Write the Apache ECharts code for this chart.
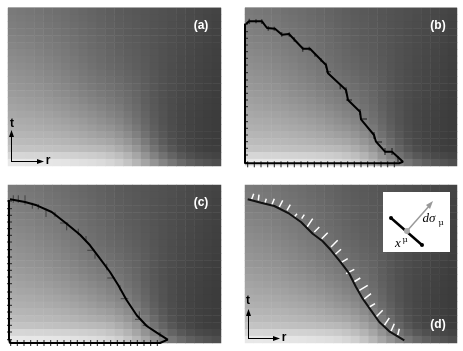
<!DOCTYPE html>
<html>
<head>
<meta charset="utf-8">
<style>
html, body { margin: 0; padding: 0; background: #fff; }
#js-chart { width: 463px; height: 351px; }
</style>
<script src="https://cdn.jsdelivr.net/npm/echarts@6/dist/echarts.min.js"></script>
</head>
<body>
<div id="js-chart"></div>
<script>
// grey level of every cell, top row first
const field = [
    [122,120,118,116,113,111,109,106,103,100,97,94,91,89,87,85,83,81,79,77,74,72,70,68],
    [124,122,120,118,115,113,110,107,104,101,98,95,92,90,88,85,83,81,79,76,74,72,69,67],
    [126,124,122,120,117,115,112,109,106,103,99,96,93,91,88,86,83,81,78,76,73,71,69,66],
    [128,126,124,122,119,117,114,111,107,104,101,97,94,91,89,86,83,81,78,75,73,71,68,66],
    [131,129,127,124,122,119,116,113,109,106,102,99,95,92,90,87,84,81,78,75,72,70,68,65],
    [134,132,130,127,124,122,119,115,111,107,104,100,96,93,91,87,84,81,78,75,72,70,67,65],
    [137,135,133,130,127,124,121,117,113,109,106,102,98,95,92,88,85,81,78,75,72,69,67,64],
    [140,138,136,133,130,127,123,120,115,111,107,103,100,96,93,89,85,81,78,74,71,69,66,64],
    [143,141,139,136,133,130,126,122,118,113,109,105,102,98,94,90,85,81,77,74,71,68,66,63],
    [146,144,142,139,136,133,129,125,120,116,112,108,104,100,96,91,86,81,77,73,70,68,65,63],
    [149,147,145,142,139,136,132,128,123,119,115,111,107,102,98,92,86,81,77,73,70,67,65,62],
    [152,150,148,146,143,139,136,132,127,122,118,114,110,105,100,93,87,81,77,73,69,67,64,62],
    [156,154,152,150,147,143,140,136,131,127,122,118,113,108,102,94,87,81,76,72,69,66,64,61],
    [160,158,156,154,151,148,145,141,136,131,127,122,117,111,104,95,88,81,76,72,68,66,63,61],
    [164,162,160,158,156,153,150,146,142,137,132,127,122,114,107,97,89,82,76,71,68,65,63,61],
    [168,166,165,163,161,158,155,151,147,143,138,132,127,119,110,100,90,83,76,71,67,65,62,60],
    [172,171,170,168,166,164,161,158,154,149,144,139,133,124,114,103,92,83,76,71,67,64,62,60],
    [176,175,174,173,171,169,167,164,160,156,151,147,140,131,120,107,95,85,77,71,67,64,62,60],
    [182,181,180,179,178,176,174,171,168,164,160,156,149,140,128,113,99,88,78,72,67,64,62,60],
    [188,187,186,185,184,183,181,179,176,173,170,166,159,150,138,122,106,92,81,73,68,65,62,60],
    [196,195,195,194,193,192,191,190,188,186,184,180,172,163,150,133,115,100,87,77,71,66,63,62],
    [214,214,213,213,212,211,210,209,207,205,202,197,190,180,166,148,130,114,100,88,80,74,71,68],
    [232,232,231,231,230,229,228,226,224,222,219,214,207,196,182,165,148,132,118,105,95,88,83,78]
];

const curveB = [[1,142],[4,144.7],[17,144.7],[22,138],[30,137.3],[37,131.3],[44,132],[58,117.3],[65,117.3],[81,101],[83,92.7],[101,76],[103,66],[115,54.3],[116,46.7],[129,31],[131,24.3],[140,14.3],[147,14.3],[158,4.3],[154,2.7],[0,2.7],[0,142]];
const curveC = [[2,143.7],[17,141],[28.7,137.7],[43.7,131],[58.7,119.3],[72,108.3],[82,97.7],[92,84.3],[102,71],[110.3,57.7],[118.7,42.7],[128.7,27.7],[138.7,17],[148.7,10.3],[159.7,3.3],[152,0],[2,0],[1,4],[1,143]];
const curveD = [[2.7,143.7],[16,140.3],[29.3,137],[44.3,129.3],[56,121],[67.7,109.3],[77.7,101.7],[86,92.7],[96,80.3],[104.3,69.3],[111,56],[117.7,44.3],[126,32.7],[134.3,21],[144.3,11.7],[159.3,2.7]];

// small strokes along the curves, each one [r0, t0, r1, t1]
const ticksB = [[4.3,147.3,4.3,142],[11,146.7,11,142.7],[16.7,146.7,16.7,142],[23.3,140,23.3,135.3],[29.3,139.3,29.3,135.3],[36.7,134,36.7,129.3],[44.3,133.7,44.3,129.3],[49.3,128.7,49.3,124.3],[57.7,119.3,57.7,114.3],[64.3,119.3,64.3,115.3],[70,112.7,70,109.3],[76,107.7,76,104.3],[81,103.3,81,97.7],[81,94.3,86,94.3],[95.3,81,95.3,76.7],[101,78.7,101,72.7],[101,66,107,66],[115,57,115,51],[116,47,122,47],[129,34,129,27],[131,24,137,24],[140,18,140,11],[147,18,147,11],[153,10,153,4]];
const ticksC = [[5.3,147.7,5.3,140.3],[10.3,147.7,10.3,140.3],[17,147.7,17,138.3],[24.3,140.3,24.3,134.3],[30.3,139,30.3,133.7],[38,134.3,38,126],[47,131,47,126],[52,120,60.3,120],[58.7,119.3,58.7,112.7],[70.3,114.3,70.3,107.7],[78,107,78,102.7],[79.3,92.7,87,92.7],[87,89.3,87,84.3],[98.7,79.3,98.7,72.7],[99.3,65,107,65],[112,57.7,112,52.7],[112.7,44.3,120.3,44.3],[131.3,31.7,131.3,26],[127,23.7,133.7,23.7],[134.7,17.7,140.3,17.7],[152,11,152,6]];
const ticksD = [[6.7,143.7,8.7,149.3],[13.3,142.7,14,148.3],[20,140.3,21.3,144.3],[26.7,137.7,29.3,144.3],[34.3,136,37.7,142.7],[42,132.7,45.3,138.3],[49.3,126,52,129.3],[56.7,124.3,59.3,128.3],[62,116,67.7,124.3],[69.3,111,74.3,116],[76.7,104.3,82.7,110.3],[86,96,92.7,102.7],[89.3,87.7,96,93.7],[96,80.3,102.7,84.3],[101,69.3,109.3,73.7],[108.7,61,115.3,65],[114.3,52.7,122.7,57.7],[118.7,43.7,126,49.3],[124.3,36,130,39.3],[131,26,137.7,32.7],[139.3,17.7,144.3,25],[146,11.7,149.3,19.3],[152.7,7.7,154.3,14.3]];

const edgeTicksT = [3.3,11,17.7,24.3,31,37.7,44.3,51,59.3,66,72.7,79.3,86,93.3,101,107.7,114.3,121,127.7,134.3,142];
const edgeTicksR = [2.7,9.3,16,22.7,29.3,36,42.7,49.3,56,62.7,69.3,76,82.7,89.3,96,102.7,109.3,116,122.7,129.3,136,142.7,149.3];

const panels = [
    {left: 8, top: 8, width: 213, height: 158},
    {left: 245, top: 8, width: 212, height: 158},
    {left: 8, top: 185, width: 213, height: 158},
    {left: 245, top: 185, width: 212, height: 158}
];

// turns [r0, t0, r1, t1] strokes into one broken line
function strokes(list) {
    const out = [];
    list.forEach(function (s) {
        out.push([s[0], s[1]], [s[2], s[3]], ['-', '-']);
    });
    return out;
}

const cells = [];
field.forEach(function (row, r) {
    row.forEach(function (v, c) {
        cells.push([c, field.length - 1 - r, v]);
    });
});

const chart = echarts.init(document.getElementById('js-chart'), null, {renderer: 'canvas'});

const grid = [];
const xAxis = [];
const yAxis = [];
const series = [];

panels.forEach(function (p, i) {
    grid.push(p);
    // category axes for the cells, value axes for the curves
    xAxis.push({type: 'category', gridIndex: i, show: false, data: field[0].map(function (v, c) { return c; })});
    yAxis.push({type: 'category', gridIndex: i, show: false, data: field.map(function (v, r) { return r; })});
    xAxis.push({type: 'value', gridIndex: i, show: false, min: 0, max: p.width});
    yAxis.push({type: 'value', gridIndex: i, show: false, min: 0, max: p.height});
    series.push({
        type: 'heatmap',
        xAxisIndex: i * 2,
        yAxisIndex: i * 2,
        data: cells,
        silent: true,
        progressive: 0
    });
});

function line(i, data, color, width) {
    series.push({
        type: 'line',
        xAxisIndex: i * 2 + 1,
        yAxisIndex: i * 2 + 1,
        data: data,
        showSymbol: false,
        symbol: 'none',
        silent: true,
        clip: false,
        z: 5,
        lineStyle: {color: color, width: width}
    });
}

function edgeTicks(edgeR, edgeT) {
    const list = [];
    edgeTicksT.forEach(function (t) {
        list.push([edgeR - 3, t, edgeR + 3, t]);
    });
    edgeTicksR.forEach(function (r) {
        list.push([r, edgeT + 2, r, edgeT - 4]);
    });
    return list;
}

line(1, strokes(ticksB), 'rgba(30,30,30,0.7)', 1.5);
line(1, strokes(edgeTicks(0, 2.7)), '#222', 1);
line(1, curveB, '#000', 2);
line(2, strokes(ticksC), 'rgba(40,40,40,0.7)', 1);
line(2, strokes(edgeTicks(1, 1)), '#222', 1);
line(2, curveC, '#000', 2);
line(3, strokes(ticksD), '#fff', 1.5);
line(3, curveD, '#111', 2);

function label(text, x, y, extra) {
    return {
        type: 'text',
        x: x,
        y: y,
        z: 20,
        style: Object.assign({
            text: text,
            fill: '#fff',
            font: 'bold 12px "Liberation Sans"',
            align: 'center',
            verticalAlign: 'middle'
        }, extra)
    };
}

function seg(x1, y1, x2, y2, color, width) {
    return {type: 'line', z: 20, shape: {x1: x1, y1: y1, x2: x2, y2: y2}, style: {stroke: color, lineWidth: width}};
}

function head(points, color) {
    return {type: 'polygon', z: 20, shape: {points: points}, style: {fill: color}};
}

const black = {fill: '#000'};

chart.setOption({
    animation: false,
    backgroundColor: '#fff',
    grid: grid,
    xAxis: xAxis,
    yAxis: yAxis,
    visualMap: {
        show: false,
        min: 0,
        max: 255,
        dimension: 2,
        seriesIndex: [0, 1, 2, 3],
        inRange: {color: ['#000000', '#ffffff']}
    },
    series: series,
    graphic: [
        seg(8, 7.5, 221, 7.5, '#a8a8a8', 1),
        seg(245, 7.5, 457, 7.5, '#a8a8a8', 1),
        label('(a)', 201, 26),
        label('(b)', 438, 26),
        label('(c)', 201, 203),
        label('(d)', 438, 325),

        // r and t arrows, panel (a)
        seg(11.5, 162, 11.5, 135, '#000', 1),
        seg(11, 161.5, 39, 161.5, '#000', 1),
        head([[11.5, 130], [9, 137], [14, 137]], '#000'),
        head([[44, 161.5], [37, 159], [37, 164]], '#000'),
        label('t', 12, 124, black),
        label('r', 48, 161, black),

        // r and t arrows, panel (d)
        seg(248.5, 339, 248.5, 314, '#000', 1),
        seg(248, 338.5, 275, 338.5, '#000', 1),
        head([[248.5, 309], [246, 316], [251, 316]], '#000'),
        head([[280, 338.5], [273, 336], [273, 341]], '#000'),
        label('t', 248, 301, black),
        label('r', 284, 338, black),

        // inset
        {type: 'rect', z: 20, shape: {x: 383, y: 192, width: 67, height: 60}, style: {fill: '#fff'}},
        seg(391, 218, 422, 245, '#000', 2.5),
        {type: 'circle', z: 21, shape: {cx: 391, cy: 218, r: 2}, style: {fill: '#000'}},
        {type: 'circle', z: 21, shape: {cx: 422, cy: 245, r: 2}, style: {fill: '#000'}},
        seg(407, 231, 430, 205, '#999', 1.5),
        head([[433, 201], [426, 205], [430, 209]], '#999'),
        {type: 'circle', z: 22, shape: {cx: 407, cy: 231, r: 3}, style: {fill: '#aaa'}},
        label('dσ', 429, 219, {fill: '#000', font: 'italic 13px "Liberation Serif"'}),
        label('μ', 441, 223, {fill: '#000', font: '8px "DejaVu Serif"'}),
        label('x', 398, 244, {fill: '#000', font: 'italic 13px "Liberation Serif"'}),
        label('μ', 405, 240, {fill: '#000', font: '8px "DejaVu Serif"'})
    ]
});
</script>
</body>
</html>
